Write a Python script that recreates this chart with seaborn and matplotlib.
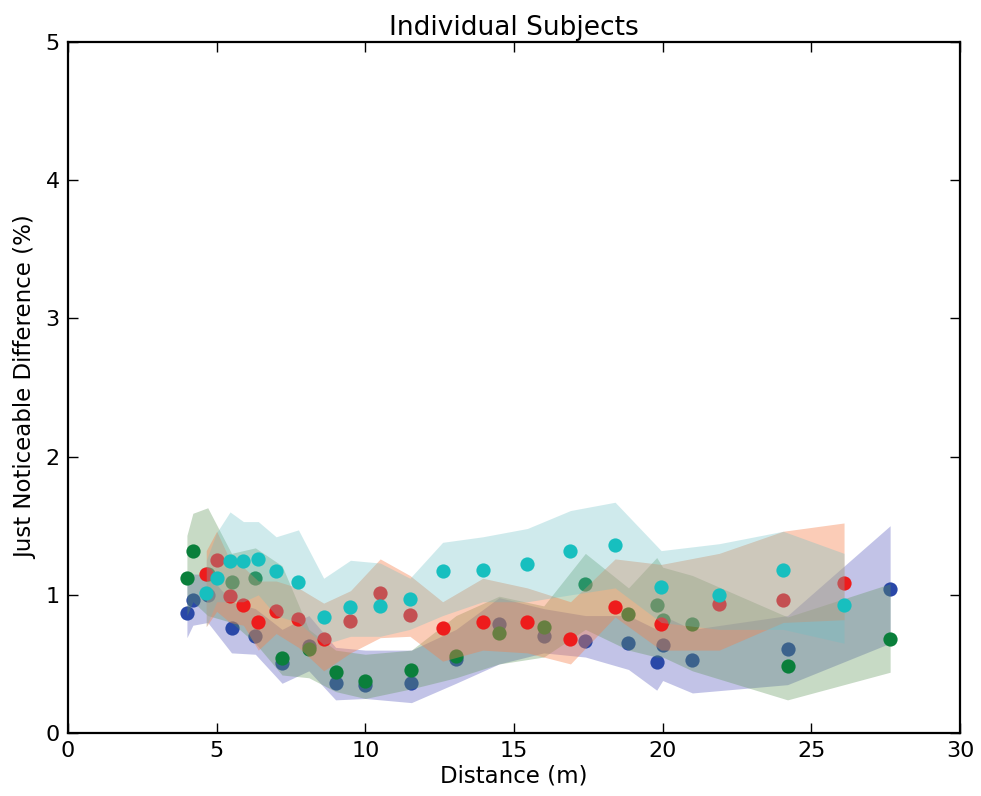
import matplotlib
matplotlib.use("Agg")
import matplotlib.pyplot as plt
import seaborn as sns

# distances (m) for the two groups of subjects
dist_a = [4.0, 4.2, 4.7, 5.5, 6.3, 7.2, 8.1, 9.0, 10.0, 11.55, 13.05, 14.5,
          16.0, 17.4, 18.85, 19.8, 20.0, 21.0, 24.2, 27.65]
dist_b = [4.65, 5.0, 5.45, 5.9, 6.4, 7.0, 7.75, 8.6, 9.5, 10.5, 11.5, 12.6,
          13.95, 15.45, 16.9, 18.4, 19.95, 21.9, 24.05, 26.1]

# subject 1 (blue)
blue_jnd = [0.87, 0.96, 1.0, 0.76, 0.70, 0.51, 0.63, 0.365, 0.35, 0.36, 0.535, 0.79,
            0.70, 0.665, 0.65, 0.515, 0.64, 0.525, 0.605, 1.04]
blue_low = [0.69, 0.78, 0.80, 0.58, 0.57, 0.36, 0.45, 0.24, 0.25, 0.22, 0.36, 0.50,
            0.58, 0.55, 0.46, 0.31, 0.38, 0.29, 0.35, 0.65]
blue_high = [1.16, 1.15, 1.15, 0.95, 0.90, 0.75, 0.85, 0.62, 0.60, 0.60, 0.75, 0.98,
             0.90, 0.85, 0.85, 0.75, 0.85, 0.75, 0.85, 1.50]

# subject 2 (green)
green_jnd = [1.12, 1.32, 1.15, 1.09, 1.12, 0.54, 0.61, 0.44, 0.375, 0.455, 0.56, 0.725,
             0.77, 1.08, 0.86, 0.925, 0.82, 0.79, 0.487, 0.68]
green_low = [0.85, 0.95, 0.85, 0.80, 0.65, 0.42, 0.40, 0.30, 0.25, 0.32, 0.40, 0.50,
             0.55, 0.75, 0.60, 0.55, 0.55, 0.45, 0.24, 0.44]
green_high = [1.43, 1.59, 1.63, 1.30, 1.34, 1.21, 0.75, 0.60, 0.57, 0.60, 0.85, 0.99,
              0.92, 1.30, 1.05, 1.27, 1.20, 1.14, 0.84, 1.08]

# subject 3 (red)
red_jnd = [1.15, 1.25, 0.99, 0.93, 0.80, 0.885, 0.825, 0.68, 0.81, 1.01, 0.855, 0.76,
           0.80, 0.805, 0.68, 0.91, 0.79, 0.935, 0.965, 1.085]
red_low = [0.77, 0.88, 0.80, 0.78, 0.60, 0.72, 0.62, 0.45, 0.58, 0.69, 0.70, 0.52,
           0.60, 0.58, 0.50, 0.84, 0.60, 0.60, 0.80, 0.82]
red_high = [1.32, 1.46, 1.25, 1.20, 1.10, 1.10, 1.05, 0.94, 1.03, 1.26, 1.14, 0.95,
            1.12, 1.05, 0.95, 1.26, 1.22, 1.30, 1.46, 1.52]

# subject 4 (cyan)
cyan_jnd = [1.01, 1.12, 1.245, 1.245, 1.26, 1.17, 1.09, 0.84, 0.91, 0.92, 0.97, 1.17,
            1.18, 1.22, 1.32, 1.36, 1.055, 1.0, 1.18, 0.93]
cyan_low = [0.77, 0.95, 0.95, 0.95, 1.0, 0.85, 0.80, 0.64, 0.70, 0.70, 0.75, 0.85,
            0.95, 0.95, 1.0, 1.05, 0.80, 0.75, 0.75, 0.65]
cyan_high = [1.25, 1.45, 1.60, 1.53, 1.53, 1.42, 1.47, 1.12, 1.25, 1.23, 1.12, 1.38,
             1.42, 1.48, 1.61, 1.67, 1.32, 1.37, 1.46, 1.30]

subjects = [
    (dist_a, blue_jnd, blue_low, blue_high, "#2a48a8", "#6f72c6", 0.42),
    (dist_a, green_jnd, green_low, green_high, "#0a7f3b", "#5f955a", 0.35),
    (dist_b, red_jnd, red_low, red_high, "#ee1c1c", "#f5804c", 0.40),
    (dist_b, cyan_jnd, cyan_low, cyan_high, "#17bfbf", "#6cc0c6", 0.32),
]

sns.set_style("ticks")
plt.rcParams["font.family"] = ["DejaVu Sans"]
plt.rcParams["text.color"] = "black"
plt.rcParams["axes.labelcolor"] = "black"
plt.rcParams["xtick.color"] = "black"
plt.rcParams["ytick.color"] = "black"
plt.rcParams["xtick.direction"] = "in"
plt.rcParams["ytick.direction"] = "in"
plt.rcParams["xtick.top"] = True
plt.rcParams["ytick.right"] = True

fig = plt.figure(figsize=(9.81, 7.96), dpi=100)
ax = fig.add_axes([0.0693, 0.0791, 0.9093, 0.8681])

# each subject: spread band first, then its points
for x, y, lo, hi, pc, bc, a in subjects:
    ax.fill_between(x, lo, hi, color=bc, alpha=a, linewidth=0, zorder=1)
    sns.scatterplot(x=x, y=y, color=pc, s=105, linewidth=0, ax=ax, zorder=1)

ax.set_xlim(0, 30)
ax.set_ylim(0, 5)
ax.set_xticks([0, 5, 10, 15, 20, 25, 30])
ax.set_yticks([0, 1, 2, 3, 4, 5])
ax.tick_params(length=7, width=1, labelsize=16, pad=6)
for sp in ax.spines.values():
    sp.set_linewidth(1.6)
    sp.set_color("black")

ax.set_title("Individual Subjects", fontsize=19, pad=5)
ax.set_xlabel("Distance (m)", fontsize=16.5, labelpad=2)
ax.set_ylabel("Just Noticeable Difference (%)", fontsize=16.5, labelpad=6)

fig.savefig("out.png", dpi=100)
